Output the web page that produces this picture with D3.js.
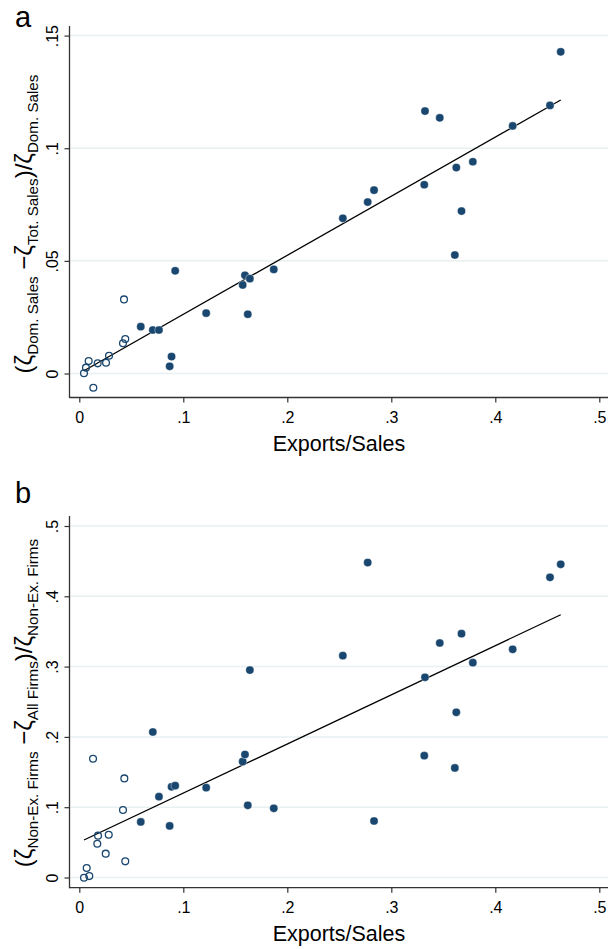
<!DOCTYPE html>
<html>
<head>
<meta charset="utf-8">
<script src="https://cdn.jsdelivr.net/npm/d3@7"></script>
<style>
  html, body { margin: 0; padding: 0; background: #fff; }
  svg { display: block; font-family: "Liberation Sans", Arial, Helvetica, sans-serif; }
</style>
</head>
<body>
<svg id="chart" width="608" height="949"></svg>
<script>
// ---------------- DATA ----------------
// Exporting industries (filled markers): shared Exports/Sales values
const filledX = [0.0591, 0.0707, 0.0766, 0.0869, 0.0887, 0.0922, 0.1220, 0.1571, 0.1593, 0.1620,
                 0.1640, 0.1870, 0.2534, 0.2773, 0.2834, 0.3317, 0.3324, 0.3466, 0.3611, 0.3625,
                 0.3675, 0.3784, 0.4167, 0.4526, 0.4629];
// Panel a: (zeta Dom - zeta Tot)/zeta Dom
const filledYA = [0.0208, 0.0193, 0.0193, 0.0032, 0.0075, 0.0456, 0.0268, 0.0393, 0.0436, 0.0263,
                  0.0421, 0.0462, 0.0689, 0.0761, 0.0814, 0.0838, 0.1165, 0.1135, 0.0526, 0.0914,
                  0.0721, 0.0940, 0.1099, 0.1190, 0.1428];
// Panel b: (zeta NonEx - zeta All)/zeta NonEx
const filledYB = [0.079, 0.207, 0.115, 0.0733, 0.129, 0.1306, 0.1278, 0.165, 0.175, 0.1027,
                  0.295, 0.0984, 0.3155, 0.448, 0.0804, 0.1733, 0.2848, 0.3336, 0.1558, 0.235,
                  0.3468, 0.3056, 0.3246, 0.427, 0.4455];
// Low-export industries (hollow markers)
const hollowXA = [0.0045, 0.0064, 0.0090, 0.0135, 0.0177, 0.0257, 0.0286, 0.0420, 0.0442, 0.0430];
const hollowYA = [0.0001, 0.0026, 0.0055, -0.0063, 0.0045, 0.0048, 0.0079, 0.0134, 0.0153, 0.0329];
const hollowXB = [0.0045, 0.0096, 0.0071, 0.0132, 0.0180, 0.0173, 0.0254, 0.0283, 0.0420, 0.0433, 0.0442];
const hollowYB = [-0.0003, 0.002, 0.0135, 0.169, 0.0595, 0.048, 0.0339, 0.0609, 0.096, 0.141, 0.023];
// Linear fit endpoints (x, y)
const fitA = [[0.0045, 0.0012], [0.4629, 0.1214]];
const fitB = [[0.0045, 0.0533], [0.4629, 0.3738]];
// Ticks
const xTicks = [0, 0.1, 0.2, 0.3, 0.4, 0.5];
const xTickLabels = ["0", ".1", ".2", ".3", ".4", ".5"];
const yTicksA = [0, 0.05, 0.1, 0.15];
const yTickLabelsA = ["0", ".05", ".1", ".15"];
const yTicksB = [0, 0.1, 0.2, 0.3, 0.4, 0.5];
const yTickLabelsB = ["0", ".1", ".2", ".3", ".4", ".5"];
const xTitle = "Exports/Sales";
const yTitleA = [["(ζ", false], ["Dom. Sales", true], [" −ζ", false], ["Tot. Sales", true], [")/ζ", false], ["Dom. Sales", true]];
const yTitleB = [["(ζ", false], ["Non-Ex. Firms", true], [" −ζ", false], ["All Firms", true], [")/ζ", false], ["Non-Ex. Firms", true]];

// ---------------- DRAW ----------------
const svg = d3.select("#chart");
svg.append("rect").attr("width", 608).attr("height", 949).attr("fill", "#fff");
const NAVY = "#1a476f";
const GRID = "#e9f0f2";

function panel(opts) {
  const g = svg.append("g");
  const x = d3.scaleLinear().domain([0, 0.5]).range([79.3, 599.3]);
  const y = d3.scaleLinear().domain(opts.yDomain).range(opts.yRange);
  const left = 69.5, right = 608;

  // grid
  g.selectAll("line.grid").data(opts.yTicks).enter().append("line")
    .attr("x1", left + 1).attr("x2", right)
    .attr("y1", d => y(d)).attr("y2", d => y(d))
    .attr("stroke", GRID).attr("stroke-width", 1.5);

  // y axis
  const yAxis = d3.axisLeft(y).tickValues(opts.yTicks).tickSize(5).tickSizeOuter(0)
    .tickFormat((d, i) => opts.yLabels[i]);
  const ya = g.append("g").attr("transform", `translate(${left},0)`).call(yAxis);
  ya.select(".domain").remove();
  ya.selectAll(".tick line").attr("stroke", "#333").attr("stroke-width", 1.2);
  ya.selectAll(".tick text")
    .attr("x", null).attr("dy", null)
    .attr("transform", "translate(-12,0) rotate(-90)")
    .attr("text-anchor", "middle")
    .attr("font-size", 16).attr("fill", "#000")
    .attr("font-family", "Liberation Sans, Arial, sans-serif");
  g.append("line").attr("x1", left).attr("x2", left)
    .attr("y1", opts.axisTop).attr("y2", opts.axisBottom + 0.6)
    .attr("stroke", "#333").attr("stroke-width", 1.3);

  // x axis
  const xAxis = d3.axisBottom(x).tickValues(xTicks).tickSize(5).tickSizeOuter(0)
    .tickFormat((d, i) => xTickLabels[i]);
  const xa = g.append("g").attr("transform", `translate(0,${opts.axisBottom})`).call(xAxis);
  xa.select(".domain").remove();
  xa.selectAll(".tick line").attr("stroke", "#333").attr("stroke-width", 1.2);
  xa.selectAll(".tick text").attr("y", 25).attr("dy", null)
    .attr("font-size", 16).attr("fill", "#000")
    .attr("font-family", "Liberation Sans, Arial, sans-serif");
  g.append("line").attr("x1", left).attr("x2", right)
    .attr("y1", opts.axisBottom).attr("y2", opts.axisBottom)
    .attr("stroke", "#333").attr("stroke-width", 1.3);

  // x title
  g.append("text").attr("x", 339).attr("y", opts.axisBottom + 53)
    .attr("text-anchor", "middle").attr("font-size", 21.5).attr("fill", "#000")
    .text(xTitle);

  // y title
  const yt = g.append("text")
    .attr("transform", `translate(32,${opts.titleCenter}) rotate(-90)`)
    .attr("text-anchor", "middle").attr("fill", "#000");
  opts.yTitle.forEach(([t, sub], i) => {
    const prevSub = i > 0 && opts.yTitle[i - 1][1];
    yt.append("tspan").text(t)
      .attr("font-size", sub ? 15.2 : 24)
      .attr("dy", sub ? 6 : (prevSub ? -6 : 0));
  });

  // panel letter
  g.append("text").attr("x", 15).attr("y", opts.letterY)
    .attr("font-size", 29).attr("fill", "#000").text(opts.letter);

  // fit line
  g.append("path").datum(opts.fit)
    .attr("d", d3.line().x(d => x(d[0])).y(d => y(d[1])))
    .attr("fill", "none").attr("stroke", "#000").attr("stroke-width", 1.3);

  // hollow markers
  g.selectAll("circle.h").data(opts.hx.map((v, i) => [v, opts.hy[i]])).enter().append("circle")
    .attr("cx", d => x(d[0])).attr("cy", d => y(d[1])).attr("r", 3.4)
    .attr("fill", "none").attr("stroke", NAVY).attr("stroke-width", 1.3);

  // filled markers
  g.selectAll("circle.f").data(filledX.map((v, i) => [v, opts.fy[i]])).enter().append("circle")
    .attr("cx", d => x(d[0])).attr("cy", d => y(d[1])).attr("r", 4.1)
    .attr("fill", NAVY).attr("stroke", "#fff").attr("stroke-width", 0.4);
}

panel({
  yDomain: [0, 0.15], yRange: [373.5, 35.6], yTicks: yTicksA, yLabels: yTickLabelsA,
  axisTop: 26, axisBottom: 397.5, yTitle: yTitleA, letter: "a", letterY: 27, titleCenter: 224,
  fit: fitA, hx: hollowXA, hy: hollowYA, fy: filledYA
});
panel({
  yDomain: [0, 0.5], yRange: [877.5, 526], yTicks: yTicksB, yLabels: yTickLabelsB,
  axisTop: 516, axisBottom: 887.7, yTitle: yTitleB, letter: "b", letterY: 503, titleCenter: 703,
  fit: fitB, hx: hollowXB, hy: hollowYB, fy: filledYB
});
</script>
</body>
</html>
